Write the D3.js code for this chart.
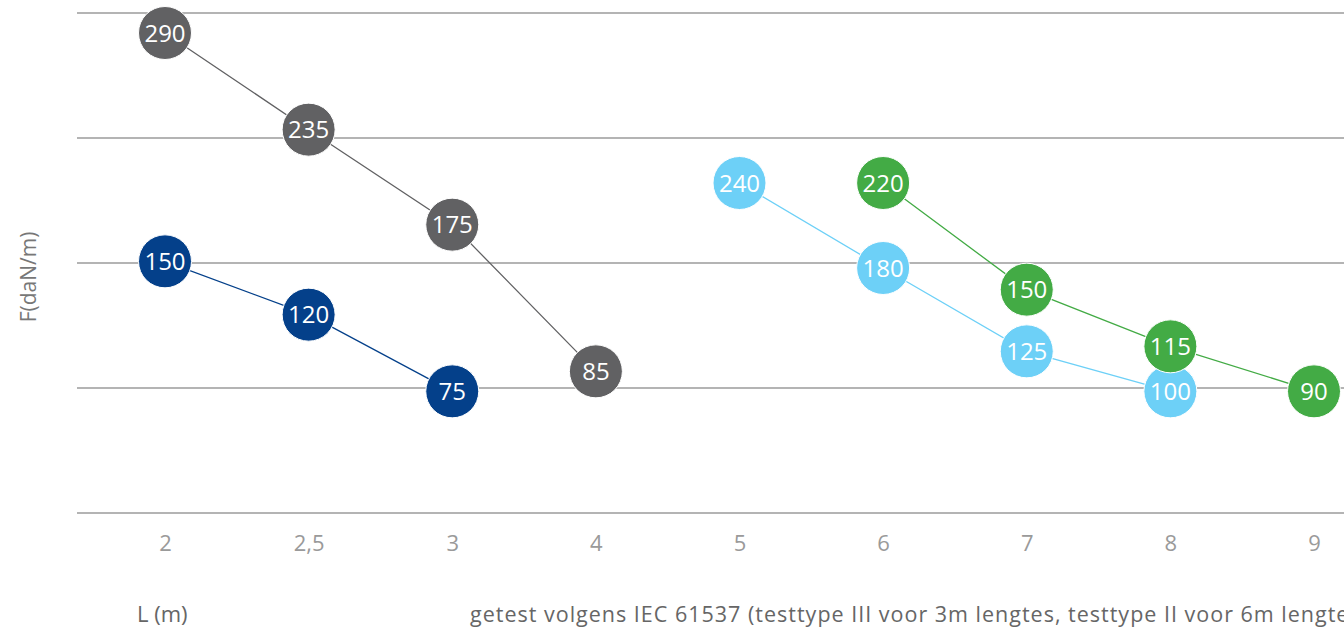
<!DOCTYPE html>
<html>
<head>
<meta charset="utf-8">
<script src="https://cdn.jsdelivr.net/npm/d3@7"></script>
<style>
  html, body { margin: 0; padding: 0; background: #fff; }
  svg { display: block; }
  text { font-family: "Open Sans", Lato, sans-serif; }
</style>
</head>
<body>
<svg id="chart" width="1344" height="627"></svg>
<script>
// ---- data ----
const categories = ["2", "2,5", "3", "4", "5", "6", "7", "8", "9"];
const gridLevels = [0, 75, 150, 225, 300];

// labels shown in the circles
const grayLengths = ["2", "2,5", "3", "4"];
const grayValues  = [290, 235, 175, 85];
const grayLevels  = [288, 230, 173, 85];   // vertical position

const navyLengths = ["2", "2,5", "3"];
const navyValues  = [150, 120, 75];
const navyLevels  = [151, 119, 73];

const lightLengths = ["5", "6", "7", "8"];
const lightValues  = [240, 180, 125, 100];
const lightLevels  = [198, 147, 97, 73];

const greenLengths = ["6", "7", "8", "9"];
const greenValues  = [220, 150, 115, 90];
const greenLevels  = [198, 134, 100, 73];

const yTitle = "F(daN/m)";
const xTitle = "L (m)";
const note = "getest volgens IEC 61537 (testtype III voor 3m lengtes, testtype II voor 6m lengtes)";

// ---- drawing ----
const svg = d3.select("#chart");
const x = d3.scalePoint().domain(categories).range([165, 1314]);
const y = d3.scaleLinear().domain([0, 300]).range([513, 13]);

// gridlines
svg.append("g").selectAll("line").data(gridLevels).join("line")
  .attr("x1", 77).attr("x2", 1344)
  .attr("y1", d => y(d)).attr("y2", d => y(d))
  .attr("stroke", "#9b9b9b").attr("stroke-width", 1.5);

// x axis tick labels
const xAxis = d3.axisBottom(x).tickSize(0).tickPadding(0);
const gx = svg.append("g").attr("transform", "translate(0,551)").call(xAxis);
gx.select(".domain").remove();
gx.selectAll("text")
  .attr("dy", 0)
  .attr("font-size", 22)
  .attr("font-family", "'Open Sans', Lato, sans-serif")
  .attr("fill", "#9a9a9a");

// y title
svg.append("text")
  .attr("transform", "translate(36,277) rotate(-90)")
  .attr("text-anchor", "middle")
  .attr("font-size", 21)
  .attr("fill", "#777")
  .text(yTitle);

// x title
svg.append("text")
  .attr("x", 137).attr("y", 622)
  .attr("font-size", 22)
  .attr("fill", "#666")
  .text(xTitle);

// note
svg.append("text")
  .attr("x", 470).attr("y", 622)
  .attr("font-size", 21.5)
  .attr("letter-spacing", 1.0)
  .attr("fill", "#666")
  .text(note);

const series = [
  { lengths: grayLengths,  values: grayValues,  levels: grayLevels,  color: "#616163" },
  { lengths: navyLengths,  values: navyValues,  levels: navyLevels,  color: "#04408a" },
  { lengths: lightLengths, values: lightValues, levels: lightLevels, color: "#6dd0f7" },
  { lengths: greenLengths, values: greenValues, levels: greenLevels, color: "#43ab45" }
];

const line = d3.line().x(d => x(d.len)).y(d => y(d.level));

series.forEach(s => {
  const pts = s.lengths.map((len, i) => ({ len, value: s.values[i], level: s.levels[i] }));
  const g = svg.append("g");
  g.append("path").datum(pts)
    .attr("d", line)
    .attr("fill", "none")
    .attr("stroke", s.color)
    .attr("stroke-width", 1.3);
  const node = g.selectAll("g.pt").data(pts).join("g").attr("class", "pt")
    .attr("transform", d => `translate(${x(d.len)},${y(d.level)})`);
  node.append("circle")
    .attr("r", 26.5)
    .attr("fill", s.color)
    .attr("stroke", "#fff")
    .attr("stroke-width", 1);
  node.append("text")
    .attr("text-anchor", "middle")
    .attr("dy", "0.36em")
    .attr("font-size", 24)
    .attr("fill", "#fff")
    .text(d => d.value);
});
</script>
</body>
</html>
